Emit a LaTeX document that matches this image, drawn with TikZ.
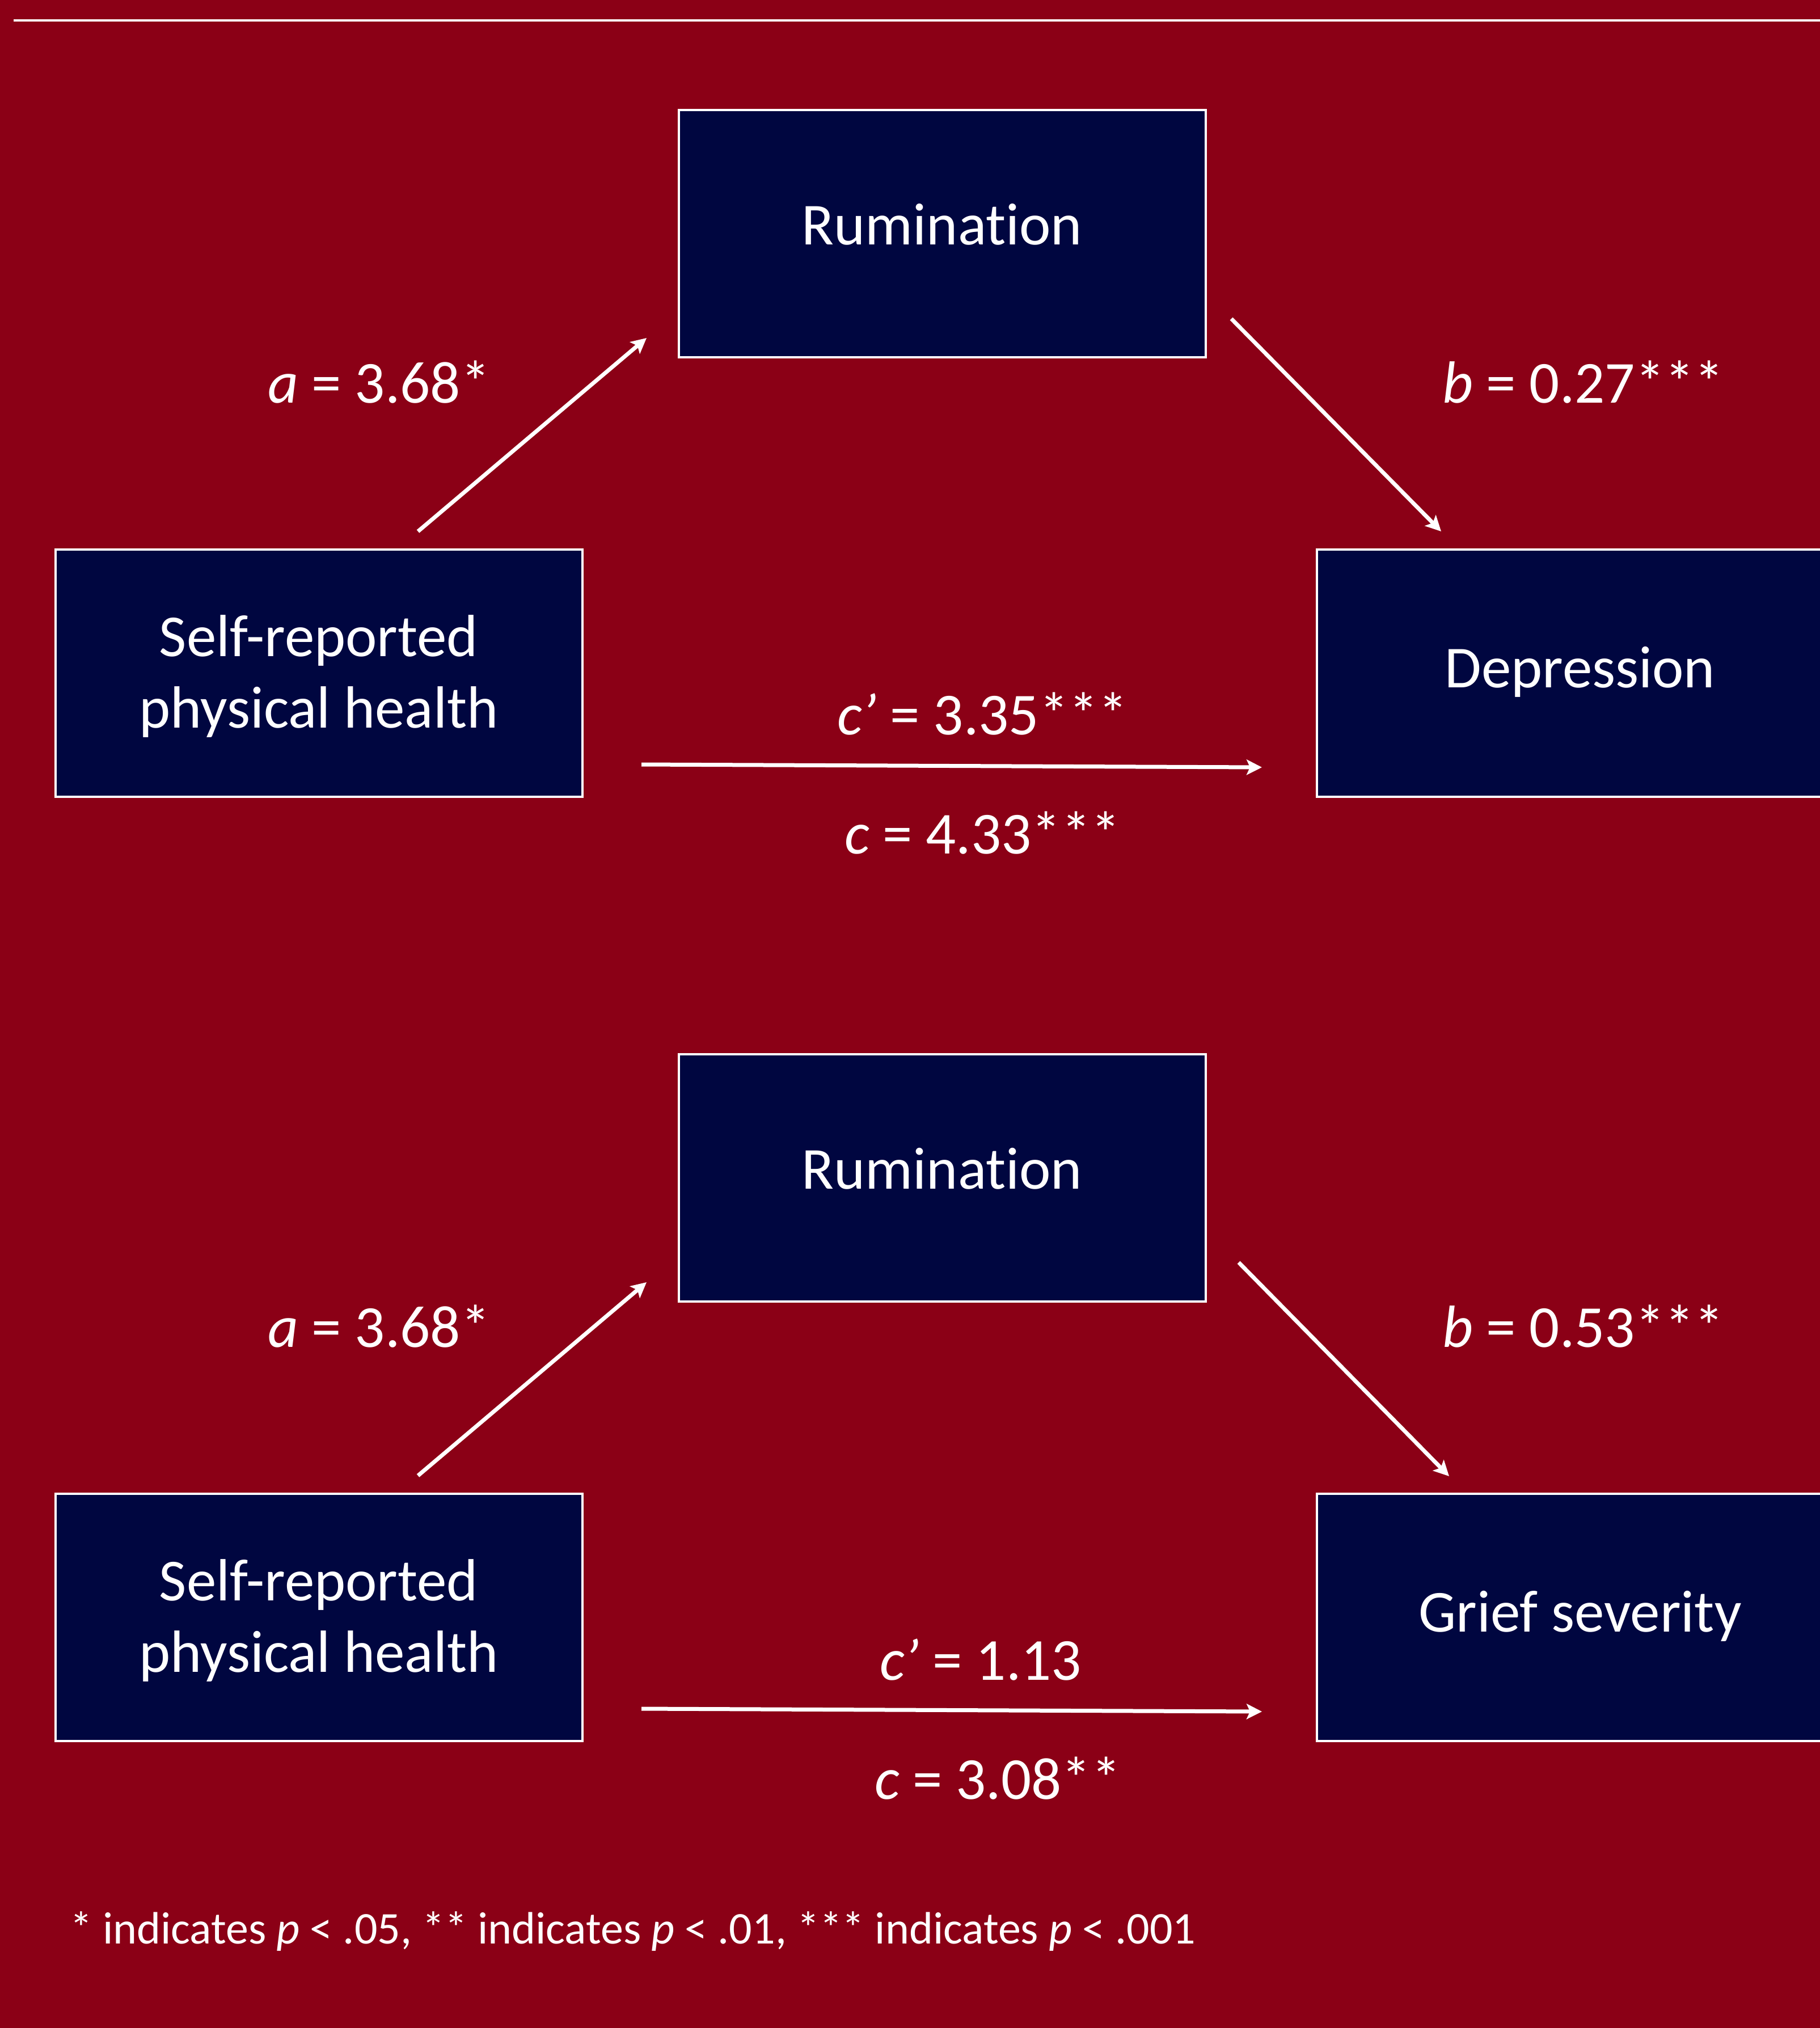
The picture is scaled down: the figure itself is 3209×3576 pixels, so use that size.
\documentclass[tikz,border=0pt]{standalone}
\usepackage{fontspec}
\setmainfont{Carlito}[Ligatures=NoCommon]
\usetikzlibrary{arrows.meta}
\definecolor{bgred}{RGB}{139,0,22}
\definecolor{navybox}{RGB}{0,6,64}
\begin{document}
\begin{tikzpicture}[x=1pt,y=-1pt,
  box/.style={draw=white, line width=4pt, fill=navybox, minimum width=929pt,
    minimum height=436pt, inner sep=0pt, text=white,
    font=\fontsize{105pt}{126pt}\selectfont},
  oneline/.style={text height=60pt, text depth=22pt},
  onelinelow/.style={text height=60pt, text depth=10pt},
  twoline/.style={text height=60pt, text depth=120pt},
  path/.style={draw=white, line width=7pt,
    -{Stealth[length=27pt,width=27pt,inset=6pt]}},
  lbl/.style={text=white, font=\fontsize{105pt}{126pt}\selectfont,
    inner sep=0pt, anchor=base west},
  note/.style={text=white, font=\fontsize{80pt}{96pt}\selectfont,
    inner sep=0pt, anchor=base west}]
\useasboundingbox (0,0) rectangle (3209,3576);
\clip (0,0) rectangle (3209,3576);
\fill[bgred] (0,0) rectangle (3209,3576);
\coordinate (rulel) at (24,36);
\coordinate (ruler) at (3209,36);
\draw[white, line width=4pt] (rulel) -- (ruler);

% ---------- top model ----------
\node[box, oneline] (rum1) at (1661,412) {Rumination};
\node[box, twoline] (shp1) at (562,1187)
  {\begin{tabular}[t]{@{}c@{}}Self-reported\\physical health\end{tabular}};
\node[box, onelinelow] (dep) at (2786,1187) {Depression};

\coordinate (a1s) at (737,937);
\coordinate (a1e) at (1140,596);
\coordinate (b1s) at (2171,562);
\coordinate (b1e) at (2541,937);
\coordinate (c1s) at (1131,1348);
\coordinate (c1e) at (2225,1353);
\draw[path] (a1s) -- (a1e);
\draw[path] (b1s) -- (b1e);
\draw[path] (c1s) -- (c1e);

\node[lbl] (la1) at (472,710) {\textit{a} = 3.68*};
\node[lbl] (lb1) at (2543,710) {\textit{b} = 0.27***};
\node[lbl] (lcp1) at (1476,1295) {\textit{c’} = 3.35***};
\node[lbl] (lc1) at (1489,1505) {\textit{c} = 4.33***};

% ---------- bottom model ----------
\node[box, oneline] (rum2) at (1661,2077) {Rumination};
\node[box, twoline] (shp2) at (562,2852)
  {\begin{tabular}[t]{@{}c@{}}Self-reported\\physical health\end{tabular}};
\node[box, onelinelow] (grief) at (2786,2852) {Grief severity};

\coordinate (a2s) at (737,2602);
\coordinate (a2e) at (1140,2261);
\coordinate (b2s) at (2184,2226);
\coordinate (b2e) at (2555,2603);
\coordinate (c2s) at (1131,3013);
\coordinate (c2e) at (2225,3018);
\draw[path] (a2s) -- (a2e);
\draw[path] (b2s) -- (b2e);
\draw[path] (c2s) -- (c2e);

\node[lbl] (la2) at (472,2375) {\textit{a} = 3.68*};
\node[lbl] (lb2) at (2543,2375) {\textit{b} = 0.53***};
\node[lbl] (lcp2) at (1551,2962) {\textit{c’} = 1.13};
\node[lbl] (lc2) at (1542,3172) {\textit{c} = 3.08**};

\node[note] (foot) at (123,3427)
  {* indicates \textit{p} < .05, ** indicates \textit{p} < .01, *** indicates \textit{p} < .001};
\end{tikzpicture}
\end{document}
